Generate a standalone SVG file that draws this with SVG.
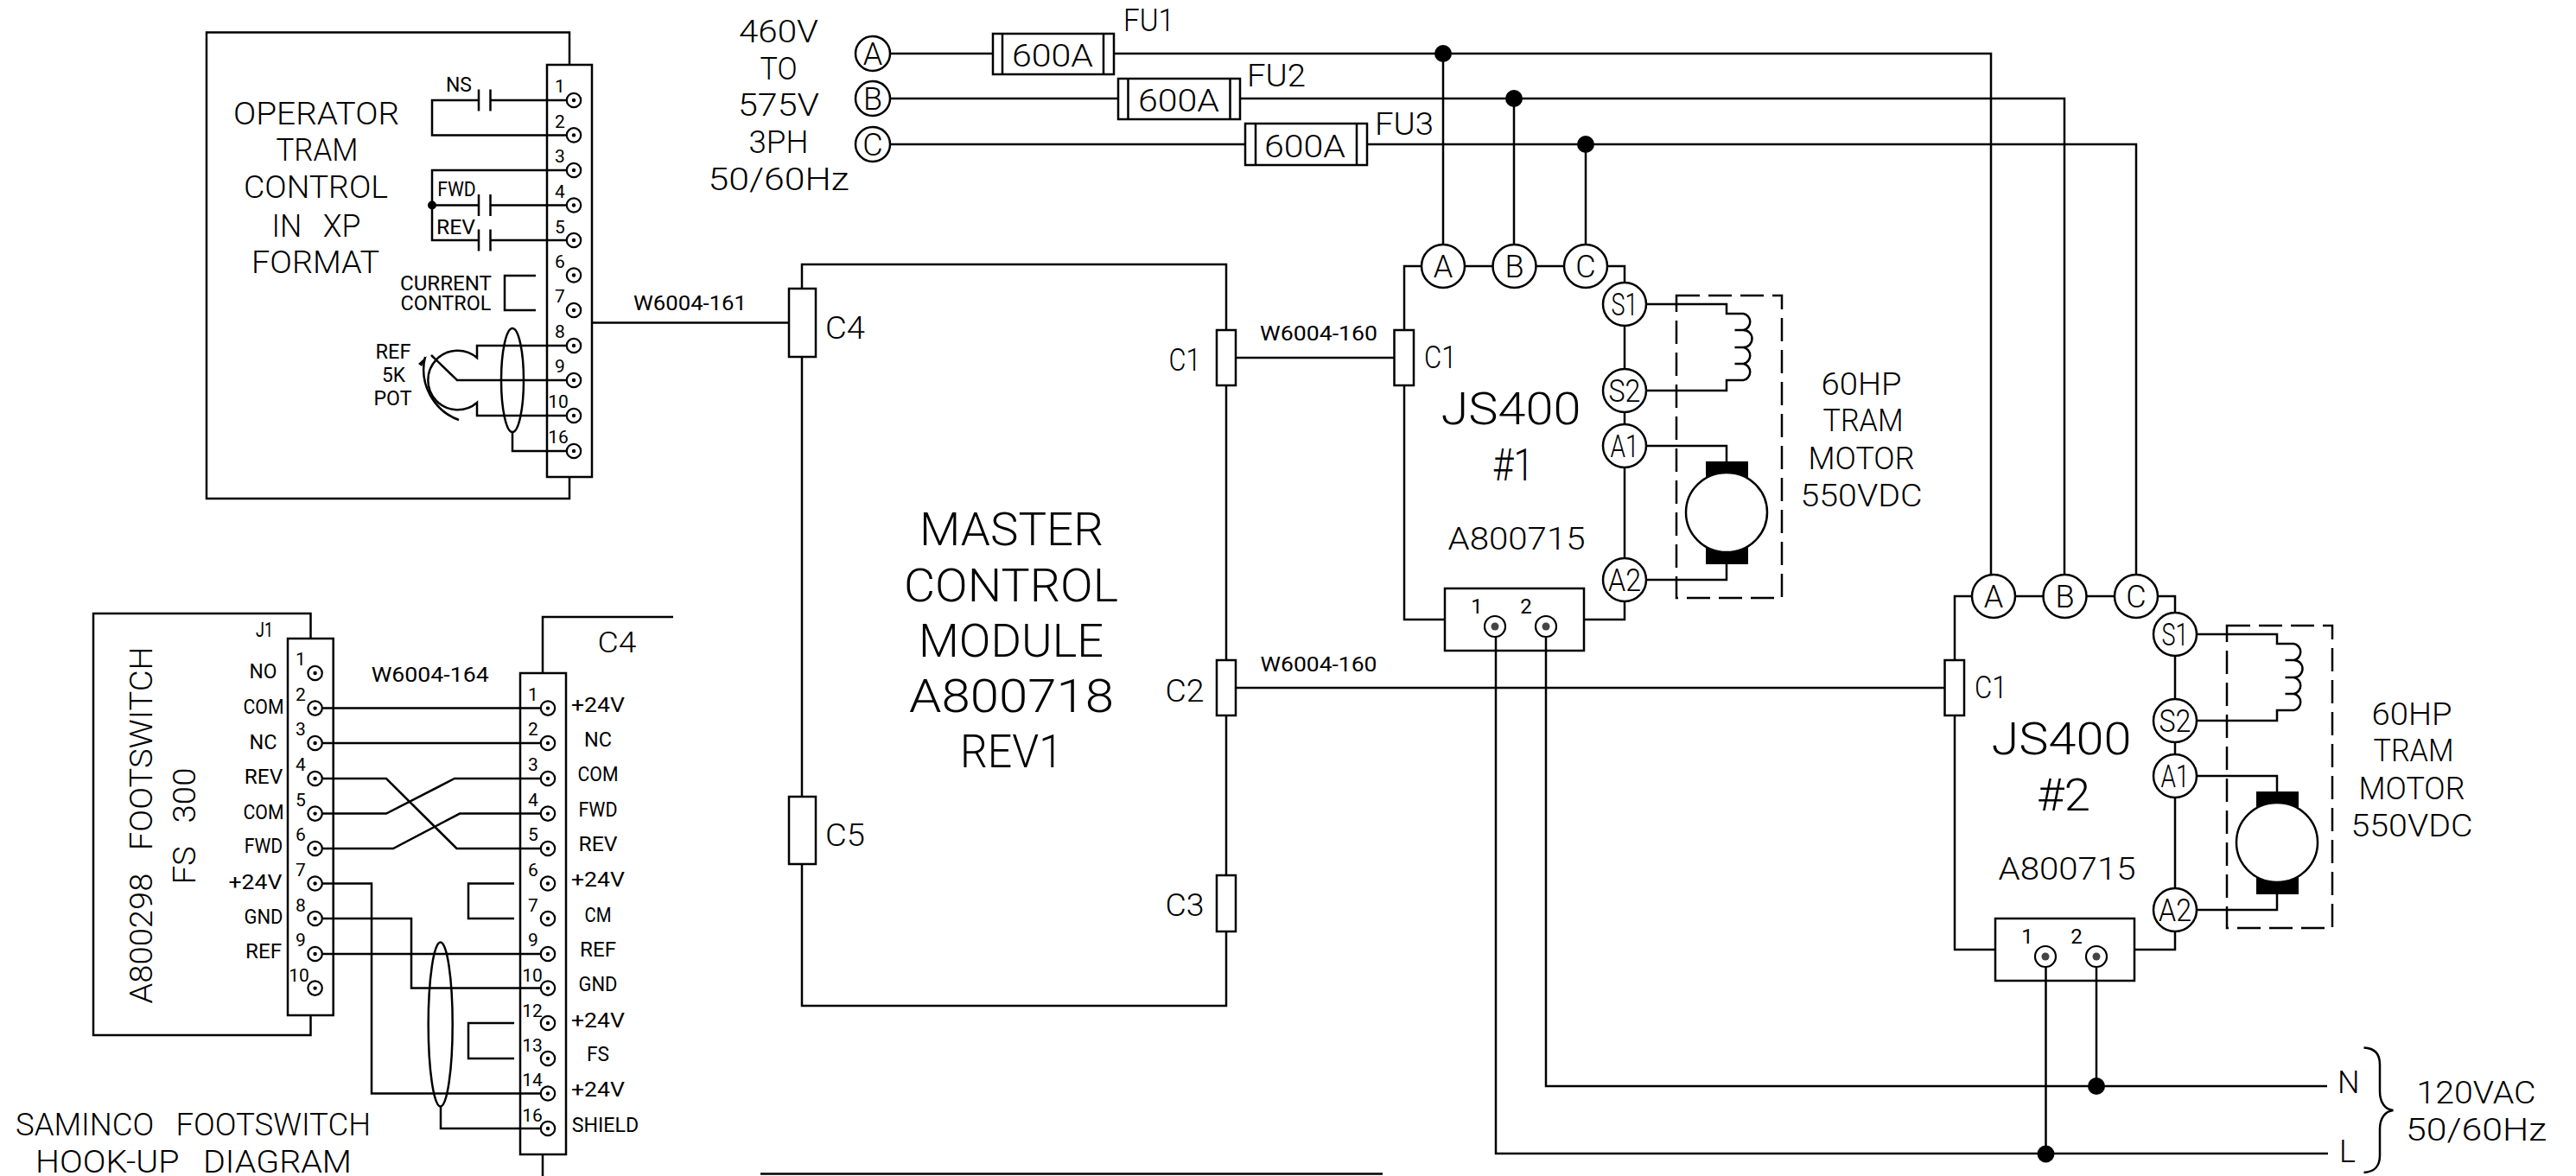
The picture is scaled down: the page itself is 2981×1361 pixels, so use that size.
<svg xmlns="http://www.w3.org/2000/svg" width="2981" height="1361" viewBox="0 0 2981 1361">
<style>
text{font-family:"Roboto","Liberation Sans",sans-serif;font-weight:300;fill:#000;text-anchor:middle}
.st{text-anchor:start}
.ws{word-spacing:.45em}
.xl{font-size:53px}.l{font-size:36px}.m{font-size:33px}.s{font-size:24px;font-weight:400}.n{font-size:21px;font-weight:400}.b{font-size:51px}
.w{fill:none;stroke:#000;stroke-width:2.5;stroke-linejoin:miter}
.o{fill:#fff;stroke:#000;stroke-width:2.5}
.f{fill:#000;stroke:none}
.d{fill:none;stroke:#000;stroke-width:2.5;stroke-dasharray:27 10}
.g{fill:#444;stroke:none}
.t{fill:#fff;stroke:#000;stroke-width:2.2}
</style>
<defs>
<g id="term"><circle class="t" r="8.2"/><circle class="f" r="2.2"/></g>
<g id="termb"><circle class="t" r="12"/><circle class="g" r="4.5"/></g>
</defs>
<rect width="2981" height="1361" fill="#fff"/>

<g id="connectors">
<path class="w" d="M1030 62H1149M1289 62H2304V665M1030 114H1294M1435 114H2389V665M1030 167H1441M1582 167H2472V665"/>
<path class="w" d="M1670 62V283M1752 114V283M1835 167V283"/>
<path class="w" d="M685 373.500H913"/>
<path class="w" d="M1430 414H1614"/>
<path class="w" d="M1430 796H2251"/>
<path class="w" d="M1731 737V1335H2694M1789 737V1257H2693"/>
<path class="w" d="M2367.500 1119V1335M2426 1119V1257"/>
<path class="w" d="M373 819.600H625M373 860H625M373 901H447L528.500 982H625M373 941.600H447L526 901H625M373 982H455L532 941.600H625M373 1022.500H430V1265.500H625M373 1063H476V1143.600H625M373 1104H625M510 1280V1306H625"/>
</g>

<g id="operator-tram-control">
<path class="w" d="M659 75V37.500H239V577H659V552"/>
<rect class="w" x="633" y="75" width="52" height="477"/>
<path class="w" d="M655 116H567.500M554 116H500V156.400H655M554 103.500V128.500M567.500 103.500V128.500"/>
<path class="w" d="M655 197H500V278H554M500 237.500H554M567.500 237.500H655M567.500 278H655M554 225V250M567.500 225V250M554 265.500V290.500M567.500 265.500V290.500"/>
<circle class="f" cx="500" cy="237.500" r="5"/>
<path class="w" d="M620 319H584V359H620"/>
<path class="w" d="M655 400H552V414A34.300 34.300 0 1 0 552 466V481H655M499 411L529 440H655"/>
<path class="w" d="M492 413A62 62 0 0 0 531 486"/>
<path class="f" d="M494 412L484 421L488 424Z"/>
<ellipse class="w" cx="593" cy="440" rx="13" ry="60"/>
<path class="w" d="M593 500V522H655"/>
<use href="#term" x="664" y="116"/><use href="#term" x="664" y="156.400"/><use href="#term" x="664" y="197"/><use href="#term" x="664" y="237.500"/><use href="#term" x="664" y="278"/><use href="#term" x="664" y="318.500"/><use href="#term" x="664" y="359"/><use href="#term" x="664" y="400"/><use href="#term" x="664" y="440"/><use href="#term" x="664" y="481"/><use href="#term" x="664" y="522"/>
<text class="l" x="366" y="143.500" textLength="192" lengthAdjust="spacingAndGlyphs">OPERATOR</text>
<text class="l" x="367" y="186" textLength="95" lengthAdjust="spacingAndGlyphs">TRAM</text>
<text class="l" x="365.500" y="229" textLength="167" lengthAdjust="spacingAndGlyphs">CONTROL</text>
<text class="l ws" x="366" y="273.500" textLength="103" lengthAdjust="spacingAndGlyphs">IN XP</text>
<text class="l" x="365" y="316" textLength="148" lengthAdjust="spacingAndGlyphs">FORMAT</text>
<text class="s" x="531" y="105.500" textLength="30" lengthAdjust="spacingAndGlyphs">NS</text>
<text class="s" x="528.500" y="227" textLength="44.500" lengthAdjust="spacingAndGlyphs">FWD</text>
<text class="s" x="527.500" y="271" textLength="45" lengthAdjust="spacingAndGlyphs">REV</text>
<text class="s" x="516" y="335.500" textLength="106" lengthAdjust="spacingAndGlyphs">CURRENT</text>
<text class="s" x="516" y="359" textLength="105" lengthAdjust="spacingAndGlyphs">CONTROL</text>
<text class="s" x="455" y="415" textLength="41" lengthAdjust="spacingAndGlyphs">REF</text>
<text class="s" x="455.500" y="442" textLength="27" lengthAdjust="spacingAndGlyphs">5K</text>
<text class="s" x="454.500" y="469" textLength="44" lengthAdjust="spacingAndGlyphs">POT</text>
<text class="n" x="648" y="107">1</text><text class="n" x="648" y="148">2</text><text class="n" x="648" y="188">3</text><text class="n" x="648" y="229">4</text><text class="n" x="648" y="269.500">5</text><text class="n" x="648" y="310">6</text><text class="n" x="648" y="350">7</text><text class="n" x="648" y="391">8</text><text class="n" x="648" y="431">9</text><text class="n" x="646" y="472">10</text><text class="n" x="646" y="513">16</text>
</g>

<g id="cable-labels">
<text class="s" x="798.500" y="359" textLength="131" lengthAdjust="spacingAndGlyphs">W6004-161</text>
<text class="s" x="1526" y="394" textLength="136" lengthAdjust="spacingAndGlyphs">W6004-160</text>
<text class="s" x="1526" y="777" textLength="135" lengthAdjust="spacingAndGlyphs">W6004-160</text>
<text class="s" x="497.700" y="789" textLength="136" lengthAdjust="spacingAndGlyphs">W6004-164</text>
</g>

<g id="supply">
<circle class="o" cx="1010" cy="62" r="20"/><circle class="o" cx="1010" cy="114" r="20"/><circle class="o" cx="1010" cy="167" r="20"/>
<text class="l" x="1010" y="75">A</text><text class="l" x="1010" y="127">B</text><text class="l" x="1010" y="180">C</text>
<text class="l" x="901" y="49" textLength="92" lengthAdjust="spacingAndGlyphs">460V</text>
<text class="l" x="901" y="92" textLength="43" lengthAdjust="spacingAndGlyphs">TO</text>
<text class="l" x="901" y="134" textLength="94" lengthAdjust="spacingAndGlyphs">575V</text>
<text class="l" x="901" y="177" textLength="69" lengthAdjust="spacingAndGlyphs">3PH</text>
<text class="l" x="901" y="220" textLength="163" lengthAdjust="spacingAndGlyphs">50/60Hz</text>
<circle class="f" cx="1670" cy="62" r="10"/><circle class="f" cx="1752" cy="114" r="10"/><circle class="f" cx="1835" cy="167" r="10"/>
</g>
<g id="fu1"><rect class="o" x="1149" y="39" width="140" height="47"/><path class="w" d="M1160 39V86M1277 39V86"/><text class="l" x="1218" y="77" textLength="94" lengthAdjust="spacingAndGlyphs">600A</text><text class="l st" x="1300" y="36" textLength="59" lengthAdjust="spacingAndGlyphs">FU1</text></g>
<g id="fu2"><rect class="o" x="1294" y="91" width="141" height="47"/><path class="w" d="M1305.500 91V138M1423.500 91V138"/><text class="l" x="1364" y="129" textLength="94" lengthAdjust="spacingAndGlyphs">600A</text><text class="l st" x="1443" y="100" textLength="68" lengthAdjust="spacingAndGlyphs">FU2</text></g>
<g id="fu3"><rect class="o" x="1441" y="143" width="141" height="48"/><path class="w" d="M1453 143V191M1570 143V191"/><text class="l" x="1510" y="182" textLength="94" lengthAdjust="spacingAndGlyphs">600A</text><text class="l st" x="1591" y="156" textLength="68" lengthAdjust="spacingAndGlyphs">FU3</text></g>

<g id="master-control-module">
<rect class="w" x="928" y="306" width="491" height="858"/>
<rect class="o" x="913" y="334" width="31" height="79"/>
<rect class="o" x="913" y="922" width="31" height="78"/>
<rect class="o" x="1408" y="382" width="22" height="64"/>
<rect class="o" x="1408" y="764" width="22" height="64"/>
<rect class="o" x="1408" y="1013" width="22" height="65"/>
<text class="l st" x="955" y="392" textLength="46" lengthAdjust="spacingAndGlyphs">C4</text>
<text class="l st" x="955" y="979" textLength="46" lengthAdjust="spacingAndGlyphs">C5</text>
<text class="l" x="1371" y="429" textLength="37" lengthAdjust="spacingAndGlyphs">C1</text>
<text class="l" x="1371" y="812" textLength="45" lengthAdjust="spacingAndGlyphs">C2</text>
<text class="l" x="1371" y="1060" textLength="45" lengthAdjust="spacingAndGlyphs">C3</text>
<text class="xl" x="1170.500" y="631" textLength="213" lengthAdjust="spacingAndGlyphs">MASTER</text>
<text class="xl" x="1170" y="695.700" textLength="248" lengthAdjust="spacingAndGlyphs">CONTROL</text>
<text class="xl" x="1170" y="760" textLength="214" lengthAdjust="spacingAndGlyphs">MODULE</text>
<text class="xl" x="1170.500" y="824" textLength="237" lengthAdjust="spacingAndGlyphs">A800718</text>
<text class="xl" x="1170.500" y="888" textLength="119" lengthAdjust="spacingAndGlyphs">REV1</text>
</g>

<g id="js400-1">
<path class="w" d="M1670 308H1880V717H1833M1672 717H1625V308H1670"/>
<rect class="o" x="1613.500" y="382" width="22.500" height="64"/>
<rect class="w" x="1672" y="681" width="161" height="72"/>
<path class="w" d="M1905 352H1998V363H2017.500A9.700 9.700 0 0 1 2017.500 382H2007.500M2017.500 382A9.700 9.700 0 0 1 2017.500 402H2007.500M2017.500 402A9.700 9.700 0 0 1 2017.500 421H2007.500M2017.500 421A9.700 9.700 0 0 1 2017.500 440H1998V452H1905"/>
<path class="w" d="M1905 516H1998V534M1998 653V671H1905"/>
<rect class="d" x="1940" y="342" width="122" height="350"/>
<rect class="f" x="1974" y="534" width="49" height="119"/>
<ellipse class="o" cx="1998" cy="593" rx="47" ry="46"/>
<circle class="o" cx="1670" cy="308" r="25"/><circle class="o" cx="1752.500" cy="308" r="25"/><circle class="o" cx="1835" cy="308" r="25"/>
<circle class="o" cx="1880" cy="352" r="25"/><circle class="o" cx="1880" cy="452" r="25"/><circle class="o" cx="1880" cy="516" r="25"/><circle class="o" cx="1880" cy="671" r="25"/>
<text class="l" x="1670" y="321">A</text><text class="l" x="1752.500" y="321">B</text><text class="l" x="1835" y="321">C</text>
<text class="l" x="1880" y="365" textLength="31" lengthAdjust="spacingAndGlyphs">S1</text><text class="l" x="1880" y="465" textLength="37" lengthAdjust="spacingAndGlyphs">S2</text><text class="l" x="1880" y="529" textLength="33" lengthAdjust="spacingAndGlyphs">A1</text><text class="l" x="1880" y="684" textLength="38" lengthAdjust="spacingAndGlyphs">A2</text>
<text class="l st" x="1648" y="425.700" textLength="37.500" lengthAdjust="spacingAndGlyphs">C1</text>
<text class="b" x="1748.500" y="490.700" textLength="162" lengthAdjust="spacingAndGlyphs">JS400</text>
<text class="b" x="1751" y="556" textLength="48" lengthAdjust="spacingAndGlyphs">#1</text>
<text class="l" x="1755" y="636" textLength="159" lengthAdjust="spacingAndGlyphs">A800715</text>
<text class="l" x="2154" y="456.500" textLength="93" lengthAdjust="spacingAndGlyphs">60HP</text>
<text class="l" x="2156" y="499" textLength="93" lengthAdjust="spacingAndGlyphs">TRAM</text>
<text class="l" x="2154" y="543" textLength="123" lengthAdjust="spacingAndGlyphs">MOTOR</text>
<text class="l" x="2154" y="586" textLength="141" lengthAdjust="spacingAndGlyphs">550VDC</text>
<use href="#termb" x="1730" y="725"/><use href="#termb" x="1789" y="725"/>
<text class="s" x="1709" y="710">1</text><text class="s" x="1766" y="710">2</text>
</g>

<g id="js400-2" transform="translate(637 382)">
<path class="w" d="M1670 308H1880V717H1833M1672 717H1625V308H1670"/>
<rect class="o" x="1613.500" y="382" width="22.500" height="64"/>
<rect class="w" x="1672" y="681" width="161" height="72"/>
<path class="w" d="M1905 352H1998V363H2017.500A9.700 9.700 0 0 1 2017.500 382H2007.500M2017.500 382A9.700 9.700 0 0 1 2017.500 402H2007.500M2017.500 402A9.700 9.700 0 0 1 2017.500 421H2007.500M2017.500 421A9.700 9.700 0 0 1 2017.500 440H1998V452H1905"/>
<path class="w" d="M1905 516H1998V534M1998 653V671H1905"/>
<rect class="d" x="1940" y="342" width="122" height="350"/>
<rect class="f" x="1974" y="534" width="49" height="119"/>
<ellipse class="o" cx="1998" cy="593" rx="47" ry="46"/>
<circle class="o" cx="1670" cy="308" r="25"/><circle class="o" cx="1752.500" cy="308" r="25"/><circle class="o" cx="1835" cy="308" r="25"/>
<circle class="o" cx="1880" cy="352" r="25"/><circle class="o" cx="1880" cy="452" r="25"/><circle class="o" cx="1880" cy="516" r="25"/><circle class="o" cx="1880" cy="671" r="25"/>
<text class="l" x="1670" y="321">A</text><text class="l" x="1752.500" y="321">B</text><text class="l" x="1835" y="321">C</text>
<text class="l" x="1880" y="365" textLength="31" lengthAdjust="spacingAndGlyphs">S1</text><text class="l" x="1880" y="465" textLength="37" lengthAdjust="spacingAndGlyphs">S2</text><text class="l" x="1880" y="529" textLength="33" lengthAdjust="spacingAndGlyphs">A1</text><text class="l" x="1880" y="684" textLength="38" lengthAdjust="spacingAndGlyphs">A2</text>
<text class="l st" x="1648" y="425.700" textLength="37.500" lengthAdjust="spacingAndGlyphs">C1</text>
<text class="b" x="1748.500" y="490.700" textLength="162" lengthAdjust="spacingAndGlyphs">JS400</text>
<text class="b" x="1751" y="556" textLength="62" lengthAdjust="spacingAndGlyphs">#2</text>
<text class="l" x="1755" y="636" textLength="159" lengthAdjust="spacingAndGlyphs">A800715</text>
<text class="l" x="2154" y="456.500" textLength="93" lengthAdjust="spacingAndGlyphs">60HP</text>
<text class="l" x="2156" y="499" textLength="93" lengthAdjust="spacingAndGlyphs">TRAM</text>
<text class="l" x="2154" y="543" textLength="123" lengthAdjust="spacingAndGlyphs">MOTOR</text>
<text class="l" x="2154" y="586" textLength="141" lengthAdjust="spacingAndGlyphs">550VDC</text>
<use href="#termb" x="1730" y="725"/><use href="#termb" x="1789" y="725"/>
<text class="s" x="1709" y="710">1</text><text class="s" x="1766" y="710">2</text>
</g>

<g id="ac-supply">
<circle class="f" cx="2426" cy="1257" r="10"/><circle class="f" cx="2367.500" cy="1335.500" r="10"/>
<text class="l st" x="2705" y="1265">N</text><text class="l st" x="2707" y="1345">L</text>
<path class="w" d="M2735.500 1212.500C2748 1213 2754 1220 2754 1232V1263C2754 1276 2760 1284 2769.500 1285C2760 1286 2754 1294 2754 1307V1337C2754 1350 2748 1356 2735.500 1357"/>
<text class="l" x="2865.500" y="1277" textLength="138" lengthAdjust="spacingAndGlyphs">120VAC</text>
<text class="l" x="2865.500" y="1319.500" textLength="163" lengthAdjust="spacingAndGlyphs">50/60Hz</text>
</g>

<g id="footswitch">
<path class="w" d="M359.500 739V710H108V1198H359.500V1175"/>
<rect class="w" x="333" y="739" width="52.700" height="436"/>
<use href="#term" x="364.600" y="779"/><use href="#term" x="364.600" y="819.600"/><use href="#term" x="364.600" y="860"/><use href="#term" x="364.600" y="901"/><use href="#term" x="364.600" y="941.600"/><use href="#term" x="364.600" y="982"/><use href="#term" x="364.600" y="1022.500"/><use href="#term" x="364.600" y="1063"/><use href="#term" x="364.600" y="1104"/><use href="#term" x="364.600" y="1143.600"/>
<text class="s" x="306" y="737" textLength="20" lengthAdjust="spacingAndGlyphs">J1</text>
<text class="s" x="304.500" y="785" textLength="32" lengthAdjust="spacingAndGlyphs">NO</text>
<text class="s" x="305" y="825.500" textLength="47" lengthAdjust="spacingAndGlyphs">COM</text>
<text class="s" x="304.500" y="866.500" textLength="32" lengthAdjust="spacingAndGlyphs">NC</text>
<text class="s" x="305" y="907" textLength="44.500" lengthAdjust="spacingAndGlyphs">REV</text>
<text class="s" x="305" y="947.500" textLength="47" lengthAdjust="spacingAndGlyphs">COM</text>
<text class="s" x="305" y="987" textLength="44.500" lengthAdjust="spacingAndGlyphs">FWD</text>
<text class="s" x="295.500" y="1029" textLength="62" lengthAdjust="spacingAndGlyphs">+24V</text>
<text class="s" x="305" y="1068.500" textLength="45" lengthAdjust="spacingAndGlyphs">GND</text>
<text class="s" x="305" y="1109" textLength="42" lengthAdjust="spacingAndGlyphs">REF</text>
<text class="n" x="348" y="770">1</text><text class="n" x="348" y="810.700">2</text><text class="n" x="348" y="851">3</text><text class="n" x="348" y="892">4</text><text class="n" x="348" y="932.600">5</text><text class="n" x="348" y="973">6</text><text class="n" x="348" y="1014">7</text><text class="n" x="348" y="1054.600">8</text><text class="n" x="348" y="1095">9</text><text class="n" x="346" y="1136">10</text>
<text class="l ws" transform="translate(176 955) rotate(-90)" textLength="413" lengthAdjust="spacingAndGlyphs">A800298 FOOTSWITCH</text>
<text class="l ws" transform="translate(226 956) rotate(-90)" textLength="135" lengthAdjust="spacingAndGlyphs">FS 300</text>
<text class="l ws" x="223.500" y="1314" textLength="411" lengthAdjust="spacingAndGlyphs">SAMINCO FOOTSWITCH</text>
<text class="l ws" x="224" y="1357" textLength="366" lengthAdjust="spacingAndGlyphs">HOOK-UP DIAGRAM</text>
</g>

<g id="c4-connector">
<path class="w" d="M628 779V714H779M628 1336V1361"/>
<rect class="w" x="602" y="779" width="53" height="557"/>
<path class="w" d="M595 1022.500H542V1063H595M595 1184H542V1225H595"/>
<ellipse class="w" cx="509.700" cy="1185.500" rx="14" ry="95"/>
<use href="#term" x="634" y="819.600"/><use href="#term" x="634" y="860"/><use href="#term" x="634" y="901"/><use href="#term" x="634" y="941.600"/><use href="#term" x="634" y="982"/><use href="#term" x="634" y="1022.500"/><use href="#term" x="634" y="1063"/><use href="#term" x="634" y="1104"/><use href="#term" x="634" y="1143.600"/><use href="#term" x="634" y="1184"/><use href="#term" x="634" y="1225"/><use href="#term" x="634" y="1265.500"/><use href="#term" x="634" y="1306"/>
<text class="m" x="714" y="755" textLength="45" lengthAdjust="spacingAndGlyphs">C4</text>
<text class="n" x="617" y="811">1</text><text class="n" x="617" y="851">2</text><text class="n" x="617" y="892">3</text><text class="n" x="617" y="932.500">4</text><text class="n" x="617" y="973">5</text><text class="n" x="617" y="1014">6</text><text class="n" x="617" y="1054.500">7</text><text class="n" x="617" y="1095">9</text><text class="n" x="616" y="1136">10</text><text class="n" x="616" y="1176.500">12</text><text class="n" x="616" y="1217">13</text><text class="n" x="616" y="1257">14</text><text class="n" x="616" y="1297.500">16</text>
<text class="s" x="692" y="823.500" textLength="62" lengthAdjust="spacingAndGlyphs">+24V</text>
<text class="s" x="692" y="864" textLength="32" lengthAdjust="spacingAndGlyphs">NC</text>
<text class="s" x="692" y="904" textLength="47" lengthAdjust="spacingAndGlyphs">COM</text>
<text class="s" x="692" y="944.500" textLength="45" lengthAdjust="spacingAndGlyphs">FWD</text>
<text class="s" x="692" y="985" textLength="45" lengthAdjust="spacingAndGlyphs">REV</text>
<text class="s" x="692" y="1026" textLength="62" lengthAdjust="spacingAndGlyphs">+24V</text>
<text class="s" x="692" y="1066.500" textLength="31" lengthAdjust="spacingAndGlyphs">CM</text>
<text class="s" x="692" y="1107" textLength="42" lengthAdjust="spacingAndGlyphs">REF</text>
<text class="s" x="692" y="1147" textLength="45" lengthAdjust="spacingAndGlyphs">GND</text>
<text class="s" x="692" y="1188.500" textLength="62" lengthAdjust="spacingAndGlyphs">+24V</text>
<text class="s" x="692" y="1228" textLength="26" lengthAdjust="spacingAndGlyphs">FS</text>
<text class="s" x="692" y="1268.500" textLength="62" lengthAdjust="spacingAndGlyphs">+24V</text>
<text class="s" x="700.500" y="1309.500" textLength="77.500" lengthAdjust="spacingAndGlyphs">SHIELD</text>
</g>
<path class="w" d="M880 1358.500H1600"/>
</svg>
